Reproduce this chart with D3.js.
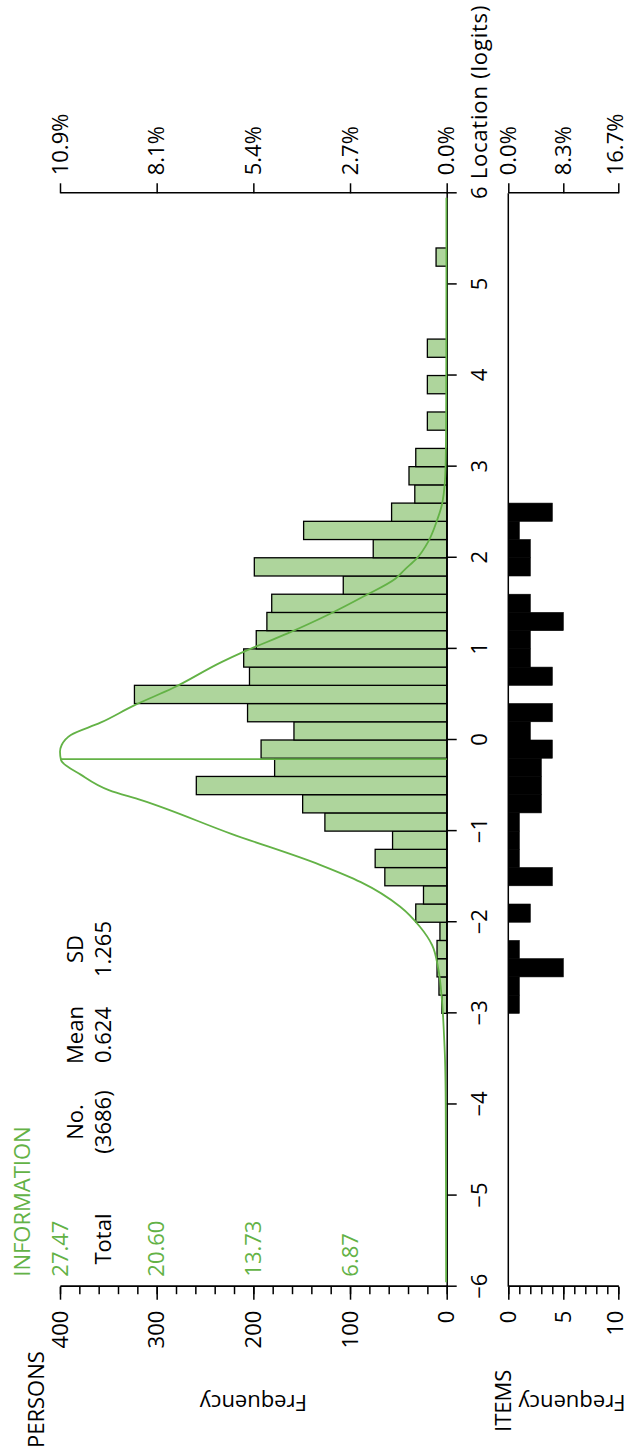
<!DOCTYPE html>
<html>
<head>
<meta charset="utf-8">
<script src="https://cdn.jsdelivr.net/npm/d3@7"></script>
<style>
  body { margin: 0; background: #fff; }
  svg { display: block; }
  text { font-family: "Open Sans", sans-serif; }
</style>
</head>
<body>
<svg id="chart" width="628" height="1453"></svg>
<script>
// Person location histogram (bins of 0.2 logits, lower edges)
const personBinStarts = [-3.0, -2.8, -2.6, -2.4, -2.2, -2.0, -1.8, -1.6, -1.4, -1.2,
  -1.0, -0.8, -0.6, -0.4, -0.2, 0.0, 0.2, 0.4, 0.6, 0.8,
  1.0, 1.2, 1.4, 1.6, 1.8, 2.0, 2.2, 2.4, 2.6, 2.8,
  3.0, 3.2, 3.4, 3.6, 3.8, 4.0, 4.2, 4.4, 4.6, 4.8, 5.0, 5.2];
const personCounts = [5, 8, 10, 10, 7, 32, 24, 64, 74, 56,
  126, 149, 259, 178, 192, 158, 206, 323, 204, 210,
  197, 186, 181, 107, 199, 76, 148, 57, 33, 39,
  32, 0, 20, 0, 20, 0, 20, 0, 0, 0, 0, 11];

// Item threshold histogram (same bins)
const itemBinStarts = [-3.0, -2.8, -2.6, -2.4, -2.2, -2.0, -1.8, -1.6, -1.4, -1.2,
  -1.0, -0.8, -0.6, -0.4, -0.2, 0.0, 0.2, 0.4, 0.6, 0.8,
  1.0, 1.2, 1.4, 1.6, 1.8, 2.0, 2.2, 2.4];
const itemCounts = [1, 1, 5, 1, 0, 2, 0, 4, 1, 1,
  1, 3, 3, 3, 4, 2, 4, 0, 4, 2,
  2, 5, 2, 0, 2, 2, 1, 4];
const binWidth = 0.2;

// Test information function
const infoLocations = [-5.95, -5, -4, -3.5, -3.24, -2.87, -2.51, -2.25, -2.05, -1.83,
  -1.56, -1.37, -1.03, -0.66, -0.55, -0.38, -0.22, -0.13, -0.055, 0.055,
  0.19, 0.38, 0.57, 0.855, 0.97, 1.17, 1.38, 1.58, 1.77, 1.87,
  1.99, 2.18, 2.40, 2.61, 2.99, 3.5, 4, 5, 5.95];
const infoValues = [0.04, 0.05, 0.07, 0.12, 0.19, 0.33, 0.6, 1.04, 1.9, 3.3,
  6.1, 9.0, 15.3, 21.7, 24.0, 26.0, 27.4, 27.47, 27.35, 26.7,
  24.6, 22.2, 19.45, 16.0, 14.4, 11.3, 8.35, 5.85, 3.65, 2.98,
  2.14, 1.3, 0.71, 0.30, 0.08, 0.04, 0.03, 0.02, 0.02];
const infoMarkerLocation = -0.21;
const infoMax = 27.47;

// Axis ticks and labels
const locationTicks = d3.range(-6, 7, 1);
const personTicks = [0, 100, 200, 300, 400];
const personMinorTicks = d3.range(0, 401, 20);
const itemTicks = [0, 5, 10];
const itemMinorTicks = d3.range(0, 11, 1);
const infoTickPersons = [100, 200, 300, 400];
const infoTickLabels = ["6.87", "13.73", "20.60", "27.47"];
const totalPersons = 3686;
const totalItems = 60;

// Summary statistics
const statHeaders = ["No.", "Mean", "SD"];
const statValues = ["(3686)", "0.624", "1.265"];

const GREEN = "#63b246";
const BAR_FILL = "#aed59c";
const FONT = 22;

const svg = d3.select("#chart");
// The plot is laid out with location running horizontally, then turned a quarter turn.
const g = svg.append("g").attr("transform", "translate(0,1453) rotate(-90)");

const x = d3.scaleLinear().domain([-6, 6]).range([166.3, 1259.7]);
const yP = d3.scaleLinear().domain([0, 400]).range([446.7, 60]);
const yI = d3.scaleLinear().domain([0, infoMax]).range([446.7, 60]);
const yItem = d3.scaleLinear().domain([0, 10]).range([508.3, 618.3]);

// Person bars
const personData = personBinStarts.map((s, i) => ({ s, c: personCounts[i] })).filter(d => d.c > 0);
g.append("g").selectAll("rect").data(personData).join("rect")
  .attr("x", d => x(d.s))
  .attr("width", d => x(d.s + binWidth) - x(d.s))
  .attr("y", d => yP(d.c))
  .attr("height", d => yP(0) - yP(d.c))
  .attr("fill", BAR_FILL)
  .attr("stroke", "#000")
  .attr("stroke-width", 1.3);

// Item bars
const itemData = itemBinStarts.map((s, i) => ({ s, c: itemCounts[i] })).filter(d => d.c > 0);
g.append("g").selectAll("rect").data(itemData).join("rect")
  .attr("x", d => x(d.s))
  .attr("width", d => x(d.s + binWidth) - x(d.s))
  .attr("y", yItem(0))
  .attr("height", d => yItem(d.c) - yItem(0))
  .attr("fill", "#000")
  .attr("stroke", "#000")
  .attr("stroke-width", 0.6);

// Item baseline
g.append("line")
  .attr("x1", x(-6)).attr("x2", x(6))
  .attr("y1", yItem(0)).attr("y2", yItem(0))
  .attr("stroke", "#000").attr("stroke-width", 1.5);

function styleAxis(sel) {
  sel.attr("font-size", FONT).attr("font-family", '"Open Sans", sans-serif');
  sel.selectAll("path.domain").attr("stroke-width", 1.5);
  sel.selectAll(".tick line").attr("stroke-width", 1.5);
  sel.selectAll(".tick text").attr("fill", "#000");
}

// Location axis
g.append("g")
  .attr("transform", `translate(0,${yP(0)})`)
  .call(d3.axisBottom(x).tickValues(locationTicks).tickSize(10).tickPadding(15).tickSizeOuter(0))
  .call(styleAxis);

// Person frequency axis
g.append("g")
  .attr("transform", `translate(${x(-6)},0)`)
  .call(d3.axisLeft(yP).tickValues(personMinorTicks).tickSize(7.5).tickFormat("").tickSizeOuter(0))
  .call(styleAxis);
g.append("g")
  .attr("transform", `translate(${x(-6)},0)`)
  .call(d3.axisLeft(yP).tickValues(personTicks).tickSize(13).tickPadding(11).tickSizeOuter(0))
  .call(styleAxis);

// Item frequency axis
g.append("g")
  .attr("transform", `translate(${x(-6)},0)`)
  .call(d3.axisLeft(yItem).tickValues(itemMinorTicks).tickSize(7.5).tickFormat("").tickSizeOuter(0))
  .call(styleAxis);
g.append("g")
  .attr("transform", `translate(${x(-6)},0)`)
  .call(d3.axisLeft(yItem).tickValues(itemTicks).tickSize(13).tickPadding(11).tickSizeOuter(0))
  .call(styleAxis)
  // keep the outermost label inside the page edge
  .call(sel => sel.selectAll(".tick text").filter(d => d === 10).attr("dy", "0.2em"));

// Percentage axes at the far end
const pct = d3.format(".1f");
g.append("g")
  .attr("transform", `translate(${x(6)},0)`)
  .call(d3.axisRight(yP).tickValues(personTicks).tickSize(10).tickPadding(8).tickSizeOuter(0)
    .tickFormat(d => pct(d / totalPersons * 100) + "%"))
  .call(styleAxis);
g.append("g")
  .attr("transform", `translate(${x(6)},0)`)
  .call(d3.axisRight(yItem).tickValues(itemTicks).tickSize(10).tickPadding(8).tickSizeOuter(0)
    .tickFormat(d => pct(d / totalItems * 100) + "%"))
  .call(styleAxis)
  .call(sel => sel.selectAll(".tick text").filter(d => d === 10).attr("dy", "0.2em"));

// Information curve
const infoPoints = infoLocations.map((l, i) => [l, infoValues[i]]);
g.append("path")
  .datum(infoPoints)
  .attr("fill", "none")
  .attr("stroke", GREEN)
  .attr("stroke-width", 1.8)
  .attr("d", d3.line().x(d => x(d[0])).y(d => yI(d[1])).curve(d3.curveMonotoneX));

// Marker from the baseline up to the curve
const markerInfo = d3.scaleLinear().domain(infoLocations).range(infoValues)(infoMarkerLocation);
g.append("line")
  .attr("x1", x(infoMarkerLocation)).attr("x2", x(infoMarkerLocation))
  .attr("y1", yI(0)).attr("y2", yI(markerInfo))
  .attr("stroke", GREEN).attr("stroke-width", 1.8);

// Information scale labels
g.append("g").selectAll("text").data(infoTickPersons).join("text")
  .attr("x", x(-6) + 10)
  .attr("y", d => yP(d))
  .attr("dy", "0.35em")
  .attr("font-size", FONT)
  .attr("fill", GREEN)
  .text((d, i) => infoTickLabels[i]);

g.append("text")
  .attr("x", x(-6) + 10).attr("y", 30)
  .attr("font-size", FONT).attr("fill", GREEN)
  .text("INFORMATION");

// Summary statistics
const statCols = [331, 418, 504];
g.append("g").selectAll("text").data(statHeaders).join("text")
  .attr("x", (d, i) => statCols[i]).attr("y", 75).attr("dy", "0.35em")
  .attr("text-anchor", "middle").attr("font-size", FONT).attr("fill", "#000")
  .text(d => d);
g.append("g").selectAll("text").data(statValues).join("text")
  .attr("x", (d, i) => statCols[i]).attr("y", 103).attr("dy", "0.35em")
  .attr("text-anchor", "middle").attr("font-size", FONT).attr("fill", "#000")
  .text(d => d);
g.append("text")
  .attr("x", 214).attr("y", 103).attr("dy", "0.35em")
  .attr("text-anchor", "middle").attr("font-size", FONT).attr("fill", "#000")
  .text("Total");

// Axis titles
g.append("text")
  .attr("x", x(6) + 14).attr("y", yP(0) + 32.3).attr("dy", "0.35em")
  .attr("font-size", FONT).attr("fill", "#000")
  .attr("letter-spacing", "0.8px")
  .text("Location (logits)");

g.append("text")
  .attr("x", 5).attr("y", 43.5)
  .attr("font-size", FONT).attr("fill", "#000")
  .text("PERSONS");

g.append("text")
  .attr("x", 21).attr("y", 511)
  .attr("font-size", FONT).attr("fill", "#000")
  .text("ITEMS");

g.append("text")
  .attr("transform", `translate(58,${(yP(0) + yP(400)) / 2}) rotate(-90)`)
  .attr("text-anchor", "middle")
  .attr("font-size", FONT).attr("fill", "#000")
  .text("Frequency");

g.append("text")
  .attr("transform", `translate(58,572) rotate(-90)`)
  .attr("text-anchor", "middle")
  .attr("font-size", FONT).attr("fill", "#000")
  .text("Frequency");
</script>
</body>
</html>
